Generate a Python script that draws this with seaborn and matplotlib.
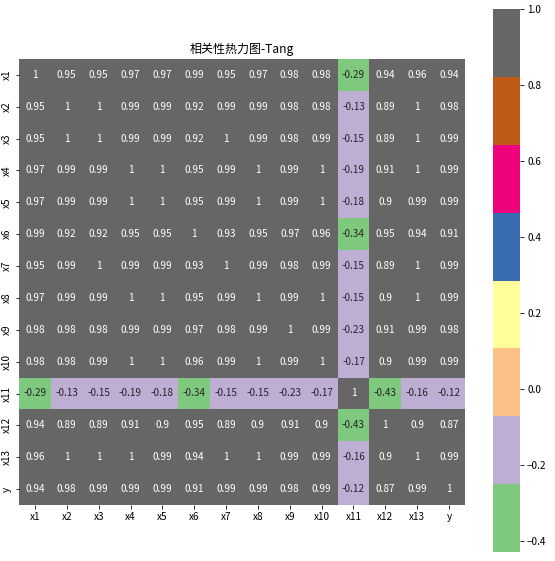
import numpy as np
import pandas as pd
import seaborn as sns
import matplotlib
matplotlib.use('Agg')
import matplotlib.pyplot as plt

plt.rcParams['font.family'] = ['Noto Sans CJK SC', 'DejaVu Sans']

# 变量名
labels = ['x1', 'x2', 'x3', 'x4', 'x5', 'x6', 'x7', 'x8', 'x9', 'x10', 'x11', 'x12', 'x13', 'y']

# 相关系数矩阵 (按行)
r_x1 = [1, 0.95, 0.95, 0.97, 0.97, 0.99, 0.95, 0.97, 0.98, 0.98, -0.29, 0.94, 0.96, 0.94]
r_x2 = [0.95, 1, 1, 0.99, 0.99, 0.92, 0.99, 0.99, 0.98, 0.98, -0.13, 0.89, 1, 0.98]
r_x3 = [0.95, 1, 1, 0.99, 0.99, 0.92, 1, 0.99, 0.98, 0.99, -0.15, 0.89, 1, 0.99]
r_x4 = [0.97, 0.99, 0.99, 1, 1, 0.95, 0.99, 1, 0.99, 1, -0.19, 0.91, 1, 0.99]
r_x5 = [0.97, 0.99, 0.99, 1, 1, 0.95, 0.99, 1, 0.99, 1, -0.18, 0.9, 0.99, 0.99]
r_x6 = [0.99, 0.92, 0.92, 0.95, 0.95, 1, 0.93, 0.95, 0.97, 0.96, -0.34, 0.95, 0.94, 0.91]
r_x7 = [0.95, 0.99, 1, 0.99, 0.99, 0.93, 1, 0.99, 0.98, 0.99, -0.15, 0.89, 1, 0.99]
r_x8 = [0.97, 0.99, 0.99, 1, 1, 0.95, 0.99, 1, 0.99, 1, -0.15, 0.9, 1, 0.99]
r_x9 = [0.98, 0.98, 0.98, 0.99, 0.99, 0.97, 0.98, 0.99, 1, 0.99, -0.23, 0.91, 0.99, 0.98]
r_x10 = [0.98, 0.98, 0.99, 1, 1, 0.96, 0.99, 1, 0.99, 1, -0.17, 0.9, 0.99, 0.99]
r_x11 = [-0.29, -0.13, -0.15, -0.19, -0.18, -0.34, -0.15, -0.15, -0.23, -0.17, 1, -0.43, -0.16, -0.12]
r_x12 = [0.94, 0.89, 0.89, 0.91, 0.9, 0.95, 0.89, 0.9, 0.91, 0.9, -0.43, 1, 0.9, 0.87]
r_x13 = [0.96, 1, 1, 1, 0.99, 0.94, 1, 1, 0.99, 0.99, -0.16, 0.9, 1, 0.99]
r_y = [0.94, 0.98, 0.99, 0.99, 0.99, 0.91, 0.99, 0.99, 0.98, 0.99, -0.12, 0.87, 0.99, 1]

rows = [r_x1, r_x2, r_x3, r_x4, r_x5, r_x6, r_x7, r_x8, r_x9, r_x10, r_x11, r_x12, r_x13, r_y]
corr = pd.DataFrame(rows, index=labels, columns=labels)

W, H = 555, 561
fig = plt.figure(figsize=(W / 72, H / 72), dpi=72)
ax = fig.add_axes([19 / W, 1 - 505 / H, 446 / W, 446 / H])
cax = fig.add_axes([493 / W, 1 - 552 / H, 27 / W, 543 / H])

sns.heatmap(corr, annot=True, cmap='Accent', square=True, ax=ax, cbar_ax=cax,
            annot_kws={'fontsize': 10})

ax.set_title('相关性热力图-Tang', fontsize=12)
ax.set_xticklabels(ax.get_xticklabels(), rotation=0, fontsize=10)
ax.set_yticklabels(ax.get_yticklabels(), rotation=90, fontsize=10, va='center')
cax.tick_params(labelsize=10)

fig.savefig('out.png', dpi=72)
